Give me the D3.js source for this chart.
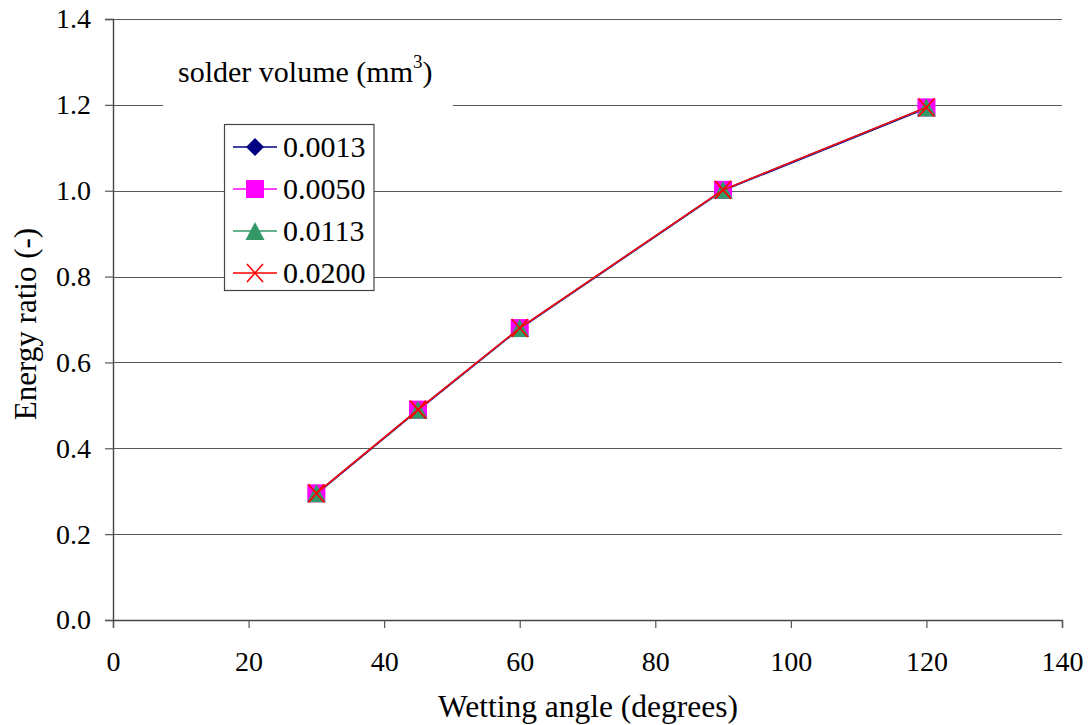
<!DOCTYPE html>
<html>
<head>
<meta charset="utf-8">
<script src="https://cdn.jsdelivr.net/npm/d3@7"></script>
<style>
  html, body { margin: 0; padding: 0; background: #fff; }
</style>
</head>
<body>
<svg id="chart" width="1091" height="725"></svg>
<script>
// Wetting angle (degrees)
const angles = [30, 45, 60, 90, 120];
// Energy ratio for each solder volume (mm^3)
const vol0013 = [0.295, 0.490, 0.680, 1.002, 1.194];
const vol0050 = [0.295, 0.490, 0.680, 1.002, 1.194];
const vol0113 = [0.295, 0.490, 0.680, 1.002, 1.194];
const vol0200 = [0.295, 0.490, 0.680, 1.002, 1.194];
const seriesNames = ["0.0013", "0.0050", "0.0113", "0.0200"];
const xTicks = [0, 20, 40, 60, 80, 100, 120, 140];
const yTicks = [0.0, 0.2, 0.4, 0.6, 0.8, 1.0, 1.2, 1.4];

const series = [
  { name: seriesNames[0], values: vol0013, color: "#000080", marker: "diamond" },
  { name: seriesNames[1], values: vol0050, color: "#FF00FF", marker: "square" },
  { name: seriesNames[2], values: vol0113, color: "#339966", marker: "triangle" },
  { name: seriesNames[3], values: vol0200, color: "#FF0000", marker: "cross" }
];

const FONT = "'Liberation Serif', 'Times New Roman', 'DejaVu Serif', serif";
const svg = d3.select("#chart");
const plotLeft = 113, plotRight = 1062, plotTop = 19, plotBottom = 620;

const x = d3.scaleLinear().domain([0, 140]).range([plotLeft, plotRight]);
const y = d3.scaleLinear().domain([0, 1.4]).range([plotBottom, plotTop]);

// horizontal gridlines
svg.append("g")
  .selectAll("line")
  .data(yTicks.filter(d => d > 0))
  .join("line")
  .attr("x1", plotLeft).attr("x2", plotRight)
  .attr("y1", d => Math.round(y(d)) + 0.5).attr("y2", d => Math.round(y(d)) + 0.5)
  .attr("stroke", "#5a5a5a").attr("stroke-width", 1.2);

// axes
const xAxis = svg.append("g")
  .attr("transform", `translate(0,${plotBottom})`)
  .call(d3.axisBottom(x).tickValues(xTicks).tickSize(8).tickPadding(23).tickFormat(d3.format("d")));
const yAxis = svg.append("g")
  .attr("transform", `translate(${plotLeft},0)`)
  .call(d3.axisLeft(y).tickValues(yTicks).tickSize(8).tickPadding(14).tickFormat(d3.format(".1f")));
[xAxis, yAxis].forEach(a => {
  a.attr("font-family", FONT).attr("font-size", 28);
  a.select(".domain").attr("stroke", "#444").attr("stroke-width", 1.4);
  a.selectAll(".tick line").attr("stroke", "#555").attr("stroke-width", 1.2);
  a.selectAll(".tick text").attr("fill", "#000");
});

// axis titles
svg.append("text")
  .attr("x", 588).attr("y", 717)
  .attr("text-anchor", "middle")
  .attr("font-family", FONT).attr("font-size", 31.5)
  .text("Wetting angle (degrees)");
svg.append("text")
  .attr("transform", `translate(36,324) rotate(-90)`)
  .attr("text-anchor", "middle")
  .attr("font-family", FONT).attr("font-size", 31)
  .text("Energy ratio (-)");

// marker drawing
function drawMarker(g, type, color, cx, cy) {
  if (type === "diamond") {
    g.append("path")
      .attr("d", `M${cx},${cy - 9}L${cx + 9},${cy}L${cx},${cy + 9}L${cx - 9},${cy}Z`)
      .attr("fill", color);
  } else if (type === "square") {
    g.append("rect")
      .attr("x", cx - 9).attr("y", cy - 9).attr("width", 18).attr("height", 18)
      .attr("fill", color);
  } else if (type === "triangle") {
    g.append("path")
      .attr("d", `M${cx},${cy - 9}L${cx + 9.5},${cy + 9}L${cx - 9.5},${cy + 9}Z`)
      .attr("fill", color);
  } else if (type === "cross") {
    g.append("path")
      .attr("d", `M${cx - 8},${cy - 9}L${cx + 8},${cy + 9}M${cx + 8},${cy - 9}L${cx - 8},${cy + 9}`)
      .attr("stroke", color).attr("stroke-width", 1.6).attr("fill", "none");
  }
}

const line = d3.line().x((d, i) => x(angles[i])).y(d => y(d));

series.forEach((s, k) => {
  const g = svg.append("g");
  g.append("path")
    .attr("d", line(s.values))
    .attr("transform", `translate(0,${k === 0 ? 0.8 : 0})`)
    .attr("fill", "none").attr("stroke", s.color).attr("stroke-width", 1.4);
  s.values.forEach((v, i) => drawMarker(g, s.marker, s.color, x(angles[i]), y(v)));
});

// legend title with white backing over gridline
svg.append("rect")
  .attr("x", 163).attr("y", 45).attr("width", 290).attr("height", 72)
  .attr("fill", "#fff");
const title = svg.append("text")
  .attr("x", 178).attr("y", 82)
  .attr("font-family", FONT).attr("font-size", 30);
title.append("tspan").text("solder volume (mm");
title.append("tspan").attr("dy", -14).attr("font-size", 19).text("3");
title.append("tspan").attr("dy", 14).text(")");

// legend box
const lg = svg.append("g");
lg.append("rect")
  .attr("x", 224.5).attr("y", 124.5).attr("width", 149.5).attr("height", 166)
  .attr("fill", "#fff").attr("stroke", "#444").attr("stroke-width", 1.2);
series.forEach((s, i) => {
  const cy = 147 + i * 42;
  lg.append("line")
    .attr("x1", 233).attr("x2", 277).attr("y1", cy).attr("y2", cy)
    .attr("stroke", s.color).attr("stroke-width", 1.3);
  drawMarker(lg, s.marker, s.color, 255, cy);
  lg.append("text")
    .attr("x", 283).attr("y", cy + 10)
    .attr("font-family", FONT).attr("font-size", 30)
    .text(s.name);
});
</script>
</body>
</html>
